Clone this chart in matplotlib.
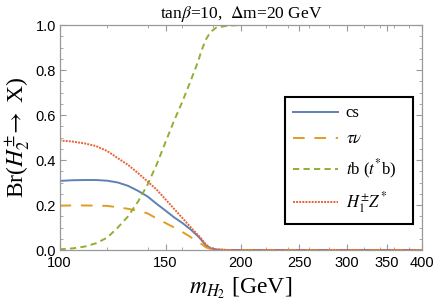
import matplotlib
matplotlib.use('Agg')
import matplotlib.pyplot as plt
from matplotlib.ticker import FixedLocator, NullFormatter

plt.rcParams['mathtext.fontset'] = 'stix'

# masses in GeV and branching ratios
mass = [100, 105, 110, 115, 120, 125, 130, 135, 140, 145, 150, 155, 160,
        165, 170, 172, 175, 178, 182, 190, 200, 250, 300, 350, 400]
br_cs = [0.307, 0.310, 0.311, 0.311, 0.308, 0.300, 0.285, 0.263, 0.238,
         0.205, 0.175, 0.145, 0.120, 0.092, 0.060, 0.045, 0.020, 0.008,
         0.002, 0.0, 0.0, 0.0, 0.0, 0.0, 0.0]
br_tau = [0.197, 0.198, 0.198, 0.197, 0.196, 0.190, 0.183, 0.174, 0.163,
          0.140, 0.120, 0.100, 0.080, 0.058, 0.035, 0.027, 0.012, 0.005,
          0.001, 0.0, 0.0, 0.0, 0.0, 0.0, 0.0]
br_tb = [0.003, 0.007, 0.015, 0.030, 0.055, 0.100, 0.150, 0.215, 0.290,
         0.380, 0.480, 0.575, 0.660, 0.750, 0.840, 0.885, 0.935, 0.968,
         0.988, 0.997, 1.0, 1.0, 1.0, 1.0, 1.0]
br_h1z = [0.487, 0.482, 0.474, 0.462, 0.440, 0.408, 0.378, 0.342, 0.305,
          0.268, 0.225, 0.183, 0.142, 0.102, 0.065, 0.050, 0.025, 0.010,
          0.003, 0.0, 0.0, 0.0, 0.0, 0.0, 0.0]

xticks = [100, 150, 200, 250, 300, 350, 400]
xminor = list(range(100, 401, 20))
yticks = [0.0, 0.2, 0.4, 0.6, 0.8, 1.0]

fig = plt.figure(figsize=(4.36, 3.08), dpi=100)
ax = fig.add_axes([0.1365, 0.1883, 0.8315, 0.7305])

ax.plot(mass, br_cs, color='#5E81B5', lw=1.4, label='cs')
ax.plot(mass, br_tau, color='#E19C24', lw=1.4, dashes=(6, 5), label=r'$\tau\nu$')
ax.plot(mass, br_tb, color='#8FB032', lw=1.4, dashes=(3.2, 2.2), label=r'$t$b ($t^{*}$b)')
ax.plot(mass, br_h1z, color='#EB6235', lw=1.4, dashes=(1.0, 0.6), label=r'$H_1^{\pm}Z^{*}$')

ax.set_xscale('log')
ax.set_xlim(100, 400)
ax.set_ylim(0, 1)
ax.xaxis.set_major_locator(FixedLocator(xticks))
ax.xaxis.set_minor_locator(FixedLocator(xminor))
ax.xaxis.set_minor_formatter(NullFormatter())
ax.set_xticklabels([str(t) for t in xticks])
ax.set_yticks(yticks)
ax.set_yticklabels(['%.1f' % t for t in yticks])
ax.yaxis.set_minor_locator(FixedLocator([i * 0.05 for i in range(21)]))

for s in ax.spines.values():
    s.set_color('#999999')
    s.set_linewidth(0.9)
ax.tick_params(which='both', direction='in', top=True, right=True,
               color='#999999', labelsize=10.5, labelcolor='black',
               labelfontfamily='Liberation Sans')
ax.tick_params(which='major', length=4, pad=2.5)
ax.tick_params(axis='x', which='major', pad=4.5)
ax.tick_params(which='minor', length=2.5)

ax.set_title(r'tan$\beta$=10,  $\Delta$m=20 GeV', fontsize=12.5,
             family='Liberation Serif', pad=5)
ax.set_xlabel(r'$m_{H_2}$ [GeV]', fontsize=17, family='Liberation Serif', labelpad=4)
ax.set_ylabel(r'Br($H_2^{\pm}\!\rightarrow$ X)', fontsize=17,
              family='Liberation Serif', labelpad=2)

leg = ax.legend(loc='upper left', bbox_to_anchor=(0.622, 0.68, 0.353, 0),
                mode='expand', borderaxespad=0, fancybox=False, framealpha=1,
                prop={'family': 'Liberation Serif', 'size': 12},
                handlelength=2.7, labelspacing=0.6, borderpad=0.5,
                handletextpad=0.45)
leg.get_frame().set_edgecolor('black')
leg.get_frame().set_linewidth(1.5)

fig.savefig('out.png', dpi=100)
